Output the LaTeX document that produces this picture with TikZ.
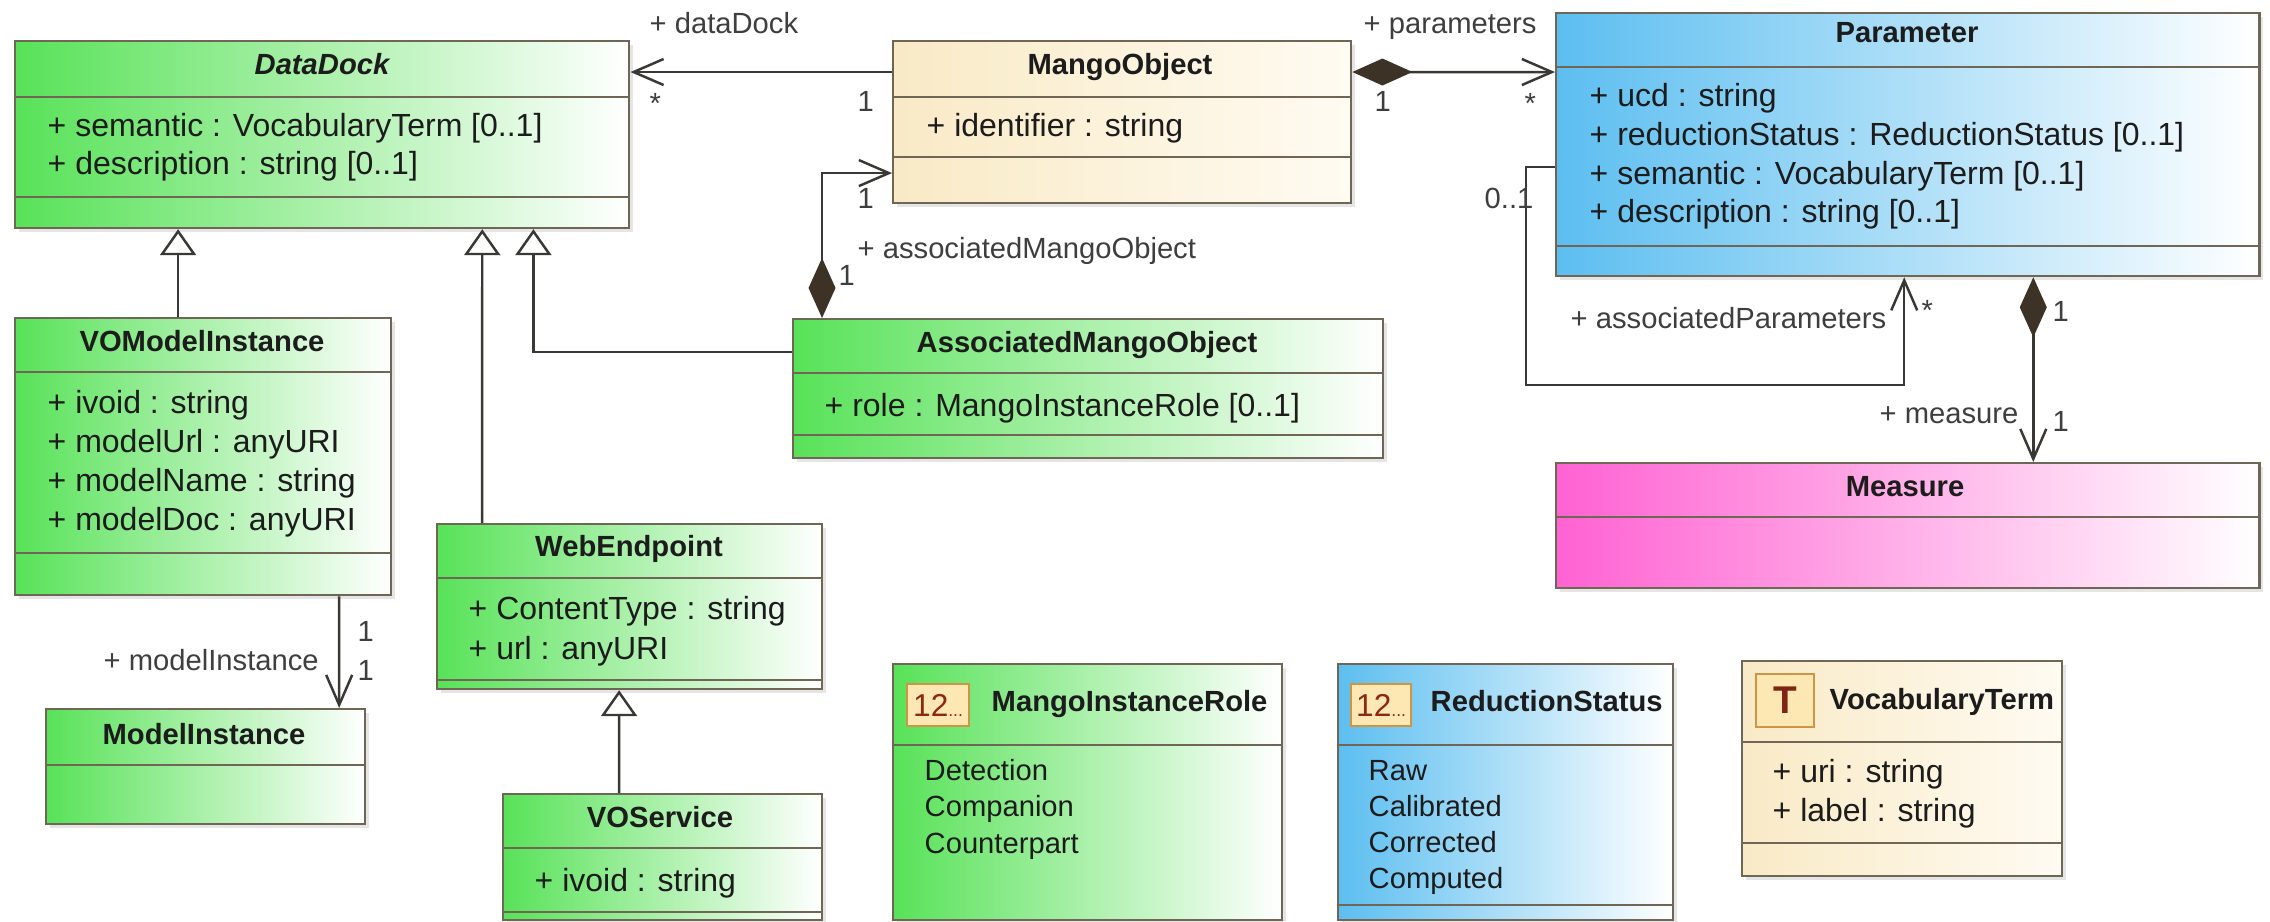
\documentclass[tikz,border=0pt]{standalone}
\usepackage{fontspec}
\setmainfont{Liberation Sans}
\usetikzlibrary{arrows.meta,shadows}
\definecolor{umlgreen}{RGB}{88,226,88}
\definecolor{umlblue}{RGB}{92,190,240}
\definecolor{umlpink}{RGB}{255,98,210}
\definecolor{umlcream}{RGB}{249,234,198}
\definecolor{umlcreamr}{RGB}{255,251,242}
\definecolor{umledge}{RGB}{112,102,86}
\definecolor{umlline}{RGB}{58,56,52}
\definecolor{umldia}{RGB}{60,50,38}
\definecolor{umltext}{RGB}{28,28,28}
\definecolor{iconfill}{RGB}{253,231,178}
\definecolor{iconedge}{RGB}{204,150,70}
\definecolor{iconred}{RGB}{140,40,20}
\newcommand{\attrfont}{\fontsize{9.1}{11}\selectfont}
\newcommand{\lblfont}{\fontsize{8.3}{10}\selectfont}
\tikzset{
  classbox/.style={draw=umledge, line width=0.6pt, anchor=north west, inner sep=0pt,
    drop shadow={shadow xshift=0.04cm, shadow yshift=-0.04cm, opacity=0.2}},
  greenbox/.style={classbox, left color=umlgreen, right color=white},
  bluebox/.style={classbox, left color=umlblue, right color=white},
  pinkbox/.style={classbox, left color=umlpink, right color=white},
  creambox/.style={classbox, left color=umlcream, right color=umlcreamr},
  divider/.style={draw=umledge, line width=0.6pt},
  title/.style={font=\lblfont\bfseries, text=umltext, inner sep=0pt, text height=6pt, text depth=1.7pt},
  attr/.style={font=\attrfont, text=umltext, anchor=west, inner sep=0pt, text height=6.6pt, text depth=1.9pt},
  literal/.style={font=\lblfont, text=umltext, anchor=west, inner sep=0pt, text height=6pt, text depth=1.7pt},
  lbl/.style={font=\lblfont, text=umltext!85, anchor=west, inner sep=0pt, text height=6pt, text depth=1.7pt},
  icon/.style={draw=iconedge, fill=iconfill, line width=0.6pt, anchor=north west, inner sep=0pt},
  conn/.style={draw=umlline, line width=0.7pt},
  assoc/.style={conn, -{Straight Barb[length=0.3cm,width=0.26cm]}},
  comp/.style={conn, {Diamond[length=0.6cm,width=0.27cm,color=umldia]}-{Straight Barb[length=0.3cm,width=0.26cm]}},
  gen/.style={conn, -{Triangle[length=0.26cm,width=0.36cm,fill=white]}}
}
\begin{document}
\begin{tikzpicture}[x=0.01cm, y=-0.01cm]
  \path[use as bounding box, fill=white] (0,0) rectangle (2270,921);

  \node[greenbox, minimum width=6.14cm, minimum height=1.87cm] (dd) at (14,40) {};
  \draw[divider] (14,97) -- (628,97);
  \draw[divider] (14,197) -- (628,197);
  \node[title, font=\lblfont\bfseries\itshape] (ddname) at (322,67) {DataDock};
  \node[attr] (dda1) at (47,128) {+ semantic : VocabularyTerm [0..1]};
  \node[attr] (dda2) at (47,166) {+ description : string [0..1]};

  \node[creambox, minimum width=4.58cm, minimum height=1.62cm] (mango) at (892,40) {};
  \draw[divider] (892,97) -- (1350,97);
  \draw[divider] (892,157) -- (1350,157);
  \node[title] (mangoname) at (1120,67) {MangoObject};
  \node[attr] (mangoa1) at (926,128) {+ identifier : string};

  \node[bluebox, minimum width=7.03cm, minimum height=2.63cm] (param) at (1555,12) {};
  \draw[divider] (1555,67) -- (2258,67);
  \draw[divider] (1555,246) -- (2258,246);
  \node[title] (paramname) at (1907,35) {Parameter};
  \node[attr] (parama1) at (1589,98) {+ ucd : string};
  \node[attr] (parama2) at (1589,137) {+ reductionStatus : ReductionStatus [0..1]};
  \node[attr] (parama3) at (1589,176) {+ semantic : VocabularyTerm [0..1]};
  \node[attr] (parama4) at (1589,214) {+ description : string [0..1]};

  \node[greenbox, minimum width=3.76cm, minimum height=2.77cm] (vomi) at (14,317) {};
  \draw[divider] (14,372) -- (390,372);
  \draw[divider] (14,553) -- (390,553);
  \node[title] (vominame) at (202,344) {VOModelInstance};
  \node[attr] (vomia1) at (47,405) {+ ivoid : string};
  \node[attr] (vomia2) at (47,444) {+ modelUrl : anyURI};
  \node[attr] (vomia3) at (47,483) {+ modelName : string};
  \node[attr] (vomia4) at (47,522) {+ modelDoc : anyURI};

  \node[greenbox, minimum width=3.19cm, minimum height=1.15cm] (mi) at (45,708) {};
  \draw[divider] (45,765) -- (364,765);
  \node[title] (miname) at (204,737) {ModelInstance};

  \node[greenbox, minimum width=5.90cm, minimum height=1.39cm] (amo) at (792,318) {};
  \draw[divider] (792,373) -- (1382,373);
  \draw[divider] (792,435) -- (1382,435);
  \node[title] (amoname) at (1087,345) {AssociatedMangoObject};
  \node[attr] (amoa1) at (824,408) {+ role : MangoInstanceRole [0..1]};

  \node[greenbox, minimum width=3.85cm, minimum height=1.65cm] (web) at (436,523) {};
  \draw[divider] (436,578) -- (821,578);
  \draw[divider] (436,680) -- (821,680);
  \node[title] (webname) at (629,549) {WebEndpoint};
  \node[attr] (weba1) at (468,611) {+ ContentType : string};
  \node[attr] (weba2) at (468,651) {+ url : anyURI};

  \node[greenbox, minimum width=3.19cm, minimum height=1.26cm] (vos) at (502,793) {};
  \draw[divider] (502,848) -- (821,848);
  \draw[divider] (502,912) -- (821,912);
  \node[title] (vosname) at (660,820) {VOService};
  \node[attr] (vosa1) at (534,883) {+ ivoid : string};

  \node[pinkbox, minimum width=7.03cm, minimum height=1.25cm] (meas) at (1555,462) {};
  \draw[divider] (1555,517) -- (2258,517);
  \node[title] (measname) at (1905,489) {Measure};

  \node[greenbox, minimum width=3.89cm, minimum height=2.56cm] (mir) at (892,663) {};
  \draw[divider] (892,745) -- (1281,745);
  \node[icon, minimum width=0.62cm, minimum height=0.42cm] (mirico) at (906,683)
    {\color{iconred}\fontsize{9}{9}\selectfont 12\fontsize{5}{5}\selectfont...};
  \node[title, anchor=west] (mirname) at (991,704) {MangoInstanceRole};
  \node[literal] (mirl1) at (924,773) {Detection};
  \node[literal] (mirl2) at (924,809) {Companion};
  \node[literal] (mirl3) at (924,846) {Counterpart};

  \node[bluebox, minimum width=3.35cm, minimum height=2.56cm] (rs) at (1337,663) {};
  \draw[divider] (1337,745) -- (1672,745);
  \draw[divider] (1337,905) -- (1672,905);
  \node[icon, minimum width=0.60cm, minimum height=0.42cm] (rsico) at (1350,683)
    {\color{iconred}\fontsize{9}{9}\selectfont 12\fontsize{5}{5}\selectfont...};
  \node[title, anchor=west] (rsname) at (1430,704) {ReductionStatus};
  \node[literal] (rsl1) at (1368,773) {Raw};
  \node[literal] (rsl2) at (1368,809) {Calibrated};
  \node[literal] (rsl3) at (1368,845) {Corrected};
  \node[literal] (rsl4) at (1368,881) {Computed};

  \node[creambox, minimum width=3.20cm, minimum height=2.15cm] (vt) at (1741,660) {};
  \draw[divider] (1741,742) -- (2061,742);
  \draw[divider] (1741,843) -- (2061,843);
  \node[icon, minimum width=0.58cm, minimum height=0.53cm] (vtico) at (1755,673)
    {\color{iconred!90!black}\fontsize{11}{11}\selectfont\bfseries T};
  \node[title, anchor=west] (vtname) at (1829,702) {VocabularyTerm};
  \node[attr] (vta1) at (1772,774) {+ uri : string};
  \node[attr] (vta2) at (1772,813) {+ label : string};

  \draw[assoc] ([yshift=-0.32cm]mango.north west) -- ([yshift=-0.32cm]dd.north east);
  \draw[comp] ([yshift=-0.32cm]mango.north east) -- ([yshift=-0.60cm]param.north west);
  \draw[comp] ([xshift=0.30cm]amo.north west) |- ([yshift=-1.33cm]mango.north west);
  \draw[gen] ([yshift=-0.34cm]amo.north west) -| ([xshift=-0.97cm]dd.south east);
  \draw[gen] ([xshift=0.46cm]web.north west) -- ([xshift=4.68cm]dd.south west);
  \draw[gen] ([xshift=1.64cm]vomi.north west) -- ([xshift=1.64cm]dd.south west);
  \draw[assoc] ([xshift=3.25cm]vomi.south west) -- ([xshift=2.94cm]mi.north west);
  \draw[gen] ([xshift=1.17cm]vos.north west) -- ([xshift=1.83cm]web.south west);
  \draw[assoc] ([yshift=-1.55cm]param.north west) -- ++(-29,0) -- ++(0,218)
    -| ([xshift=3.49cm]param.south west);
  \draw[comp] ([xshift=4.78cm]param.south west) -- ([xshift=4.78cm]meas.north west);

  \node[lbl] (ldock) at (649,26) {+ dataDock};
  \node[lbl] (ldockm) at (649,106) {*};
  \node[lbl] (ldockn) at (857,104) {1};
  \node[lbl] (lparam) at (1363,26) {+ parameters};
  \node[lbl] (lparamn) at (1374,104) {1};
  \node[lbl] (lparamm) at (1524,106) {*};
  \node[lbl] (lamon) at (857,201) {1};
  \node[lbl] (lamo) at (857,251) {+ associatedMangoObject};
  \node[lbl] (lamom) at (838,278) {1};
  \node[lbl] (lselfn) at (1484,201) {0..1};
  \node[lbl] (lself) at (1570,321) {+ associatedParameters};
  \node[lbl] (lselfm) at (1921,313) {*};
  \node[lbl] (lmeasn) at (2052,314) {1};
  \node[lbl] (lmeas) at (1879,416) {+ measure};
  \node[lbl] (lmeasm) at (2052,424) {1};
  \node[lbl] (lmin) at (357,634) {1};
  \node[lbl] (lmim) at (357,673) {1};
  \node[lbl] (lmi) at (103,663) {+ modelInstance};
\end{tikzpicture}
\end{document}
